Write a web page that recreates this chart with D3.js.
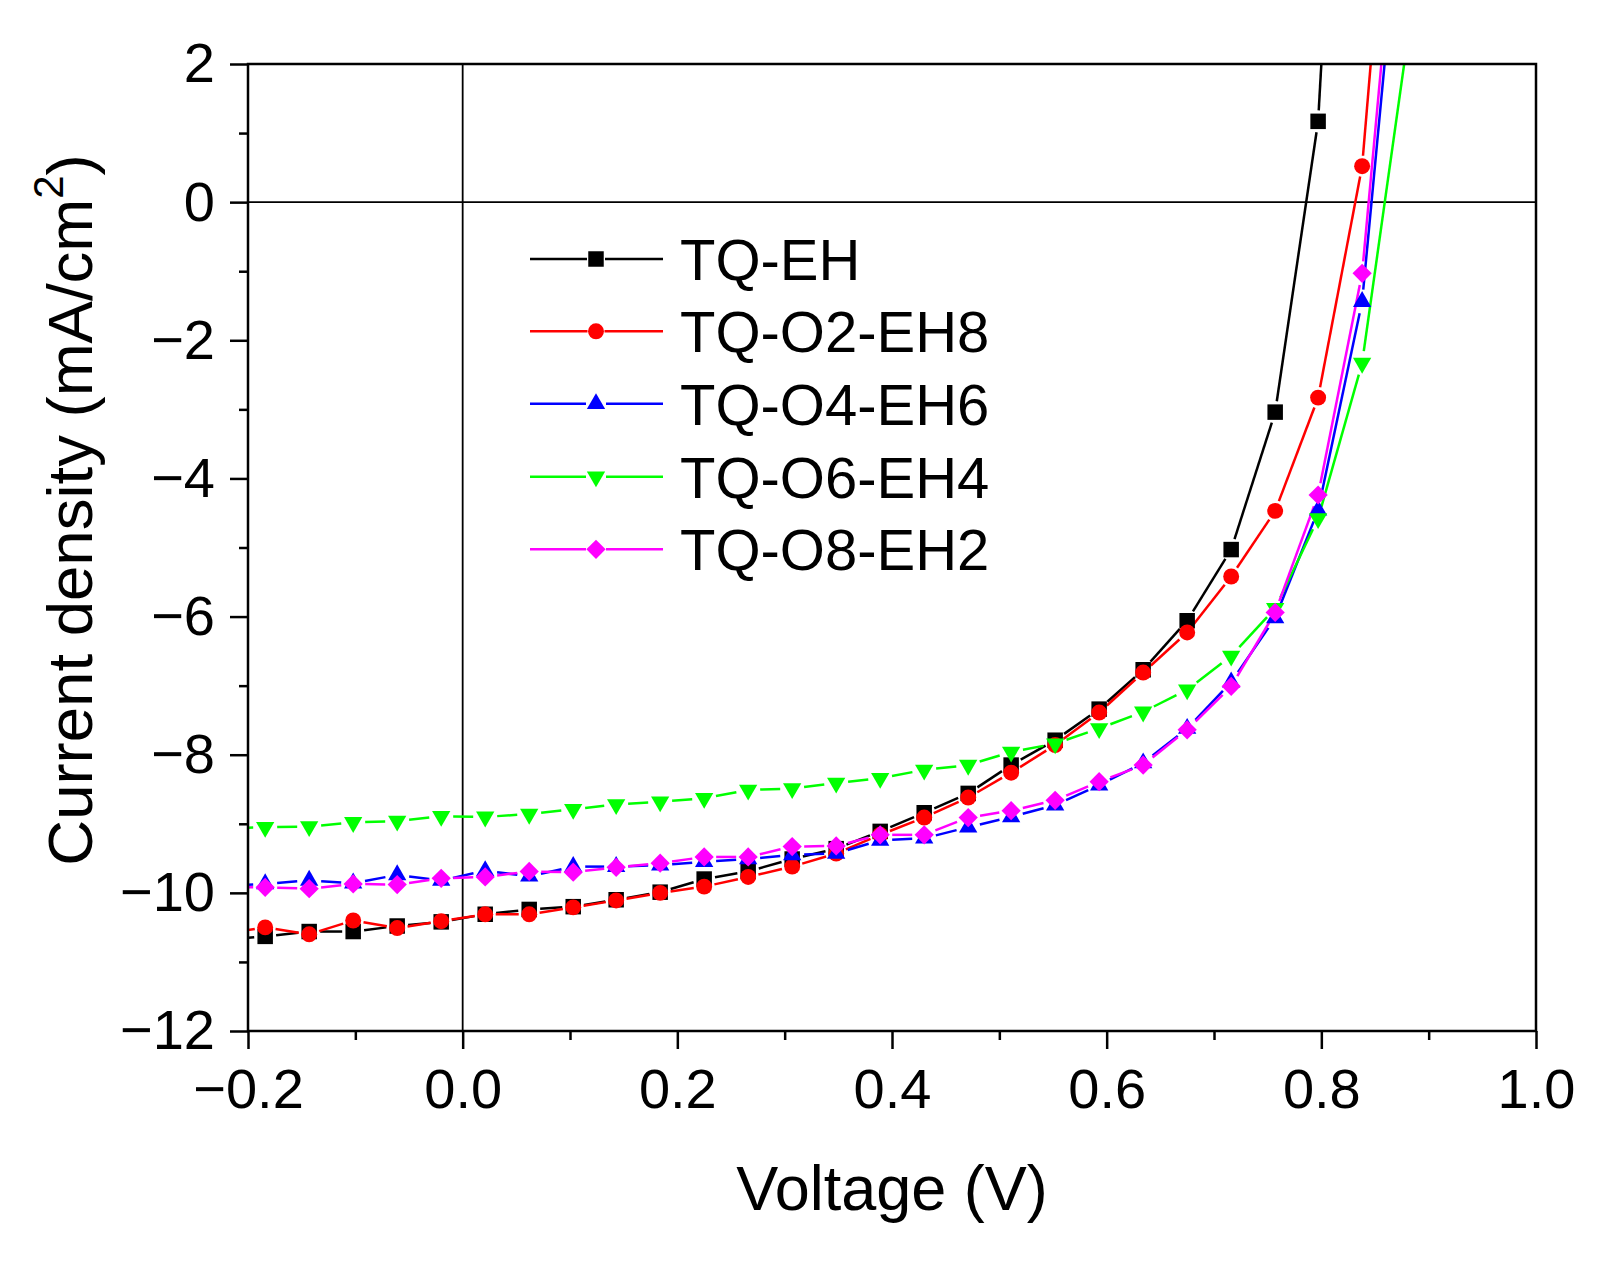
<!DOCTYPE html>
<html>
<head>
<meta charset="utf-8">
<script src="https://cdnjs.cloudflare.com/ajax/libs/d3/7.8.5/d3.min.js"></script>
<style>
body { margin: 0; background: #fff; }
svg text { font-family: "Liberation Sans", Arial, sans-serif; fill: #000; }
</style>
</head>
<body>
<div id="chart"></div>
<script>
// J-V curves, values (first and last points lie outside the frame)
var voltage = [-0.225, -0.184, -0.143, -0.102, -0.061, -0.020, 0.021, 0.062, 0.103, 0.143,
               0.184, 0.225, 0.266, 0.307, 0.348, 0.389, 0.430, 0.471, 0.511, 0.552,
               0.593, 0.634, 0.675, 0.716, 0.757, 0.797, 0.838, 0.879];

var jEH    = [-10.68, -10.63, -10.56, -10.56, -10.48, -10.42, -10.31, -10.24, -10.20, -10.10,
              -9.99, -9.80, -9.69, -9.51, -9.36, -9.11, -8.84, -8.56, -8.15, -7.79,
              -7.34, -6.77, -6.06, -5.03, -3.04, 1.17, 12.5, 30];
var jO2EH8 = [-10.60, -10.50, -10.60, -10.40, -10.51, -10.41, -10.31, -10.31, -10.21, -10.11,
              -10.00, -9.91, -9.77, -9.62, -9.43, -9.16, -8.91, -8.62, -8.26, -7.86,
              -7.39, -6.81, -6.23, -5.42, -4.47, -2.83, 0.52, 8.1];
var jO4EH6 = [-9.90, -9.87, -9.82, -9.86, -9.74, -9.82, -9.68, -9.76, -9.62, -9.62,
              -9.60, -9.55, -9.51, -9.45, -9.43, -9.24, -9.21, -9.05, -8.90, -8.73,
              -8.44, -8.12, -7.62, -6.95, -6.02, -4.46, -1.44, 5.3];
var jO6EH4 = [-9.07, -9.05, -9.04, -8.98, -8.96, -8.89, -8.90, -8.86, -8.79, -8.72,
              -8.68, -8.63, -8.51, -8.49, -8.41, -8.34, -8.22, -8.15, -7.96, -7.84,
              -7.62, -7.38, -7.06, -6.57, -5.88, -4.58, -2.33, 2.2];
var jO8EH2 = [-9.92, -9.92, -9.94, -9.87, -9.88, -9.79, -9.77, -9.69, -9.70, -9.63,
              -9.57, -9.48, -9.48, -9.33, -9.32, -9.16, -9.16, -8.91, -8.81, -8.66,
              -8.39, -8.15, -7.64, -7.01, -5.94, -4.24, -1.03, 5.9];

var names  = ["TQ-EH", "TQ-O2-EH8", "TQ-O4-EH6", "TQ-O6-EH4", "TQ-O8-EH2"];
var values = [jEH, jO2EH8, jO4EH6, jO6EH4, jO8EH2];
var colors = ["#000000", "#ff0000", "#0000ff", "#00ff00", "#ff00ff"];
var shapes = ["square", "circle", "triUp", "triDown", "diamond"];

var xMajorTicks = [-0.2, 0.0, 0.2, 0.4, 0.6, 0.8, 1.0];
var xMinorTicks = [-0.1, 0.1, 0.3, 0.5, 0.7, 0.9];
var yMajorTicks = [-12, -10, -8, -6, -4, -2, 0, 2];
var yMinorTicks = [-11, -9, -7, -5, -3, -1, 1];

var W = 1612, H = 1268;
var margin = {top: 64, right: 76, bottom: 237, left: 248};
var width = W - margin.left - margin.right;
var height = H - margin.top - margin.bottom;

var x = d3.scaleLinear().domain([-0.2, 1.0]).range([0, width]);
var y = d3.scaleLinear().domain([-12, 2]).range([height, 0]);

var svg = d3.select("#chart").append("svg")
    .attr("width", W)
    .attr("height", H);

var g = svg.append("g")
    .attr("transform", "translate(" + margin.left + "," + margin.top + ")");

g.append("defs").append("clipPath").attr("id", "clip")
    .append("rect").attr("width", width).attr("height", height);

/****** marker shapes ******/
function markerPath(shape) {
    var sym = d3.symbol();
    if (shape === "square") sym.type(d3.symbolSquare).size(240);
    else if (shape === "circle") sym.type(d3.symbolCircle).size(200);
    else if (shape === "diamond") sym.type(d3.symbolSquare).size(185);
    else sym.type(d3.symbolTriangle).size(145);
    return sym();
}
function markerRotate(shape) {
    if (shape === "diamond") return 45;
    if (shape === "triDown") return 180;
    return 0;
}
var gapSize = {square: 11, circle: 10.5, triUp: 12, triDown: 12, diamond: 12};

/****** zero lines ******/
g.append("line")
    .attr("x1", x(0)).attr("x2", x(0))
    .attr("y1", 0).attr("y2", height)
    .attr("stroke", "#000").attr("stroke-width", 1.8);
g.append("line")
    .attr("x1", 0).attr("x2", width)
    .attr("y1", y(0)).attr("y2", y(0))
    .attr("stroke", "#000").attr("stroke-width", 1.8);

/****** series ******/
function visible(v, j) {
    return v >= -0.2 && v <= 1.0 && j >= -12 && j <= 2;
}

var plot = g.append("g").attr("clip-path", "url(#clip)");

values.forEach(function (ys, s) {
    var pts = voltage.map(function (v, i) {
        return {px: x(v), py: y(ys[i]), show: visible(v, ys[i])};
    });
    var gap = gapSize[shapes[s]];
    var segs = [];
    for (var i = 0; i < pts.length - 1; i++) {
        var a = pts[i], b = pts[i + 1];
        var dx = b.px - a.px, dy = b.py - a.py;
        var len = Math.sqrt(dx * dx + dy * dy);
        var g0 = a.show ? gap : 0, g1 = b.show ? gap : 0;
        if (len <= g0 + g1) continue;
        segs.push({
            x1: a.px + dx * g0 / len, y1: a.py + dy * g0 / len,
            x2: b.px - dx * g1 / len, y2: b.py - dy * g1 / len
        });
    }
    plot.append("g").selectAll("line")
        .data(segs)
        .enter().append("line")
        .attr("x1", function (d) { return d.x1; })
        .attr("y1", function (d) { return d.y1; })
        .attr("x2", function (d) { return d.x2; })
        .attr("y2", function (d) { return d.y2; })
        .attr("stroke", colors[s])
        .attr("stroke-width", 2.5);
});

values.forEach(function (ys, s) {
    var pts = voltage.map(function (v, i) { return {v: v, j: ys[i]}; })
        .filter(function (d) { return visible(d.v, d.j); });
    g.append("g").selectAll("path")
        .data(pts)
        .enter().append("path")
        .attr("d", markerPath(shapes[s]))
        .attr("transform", function (d) {
            return "translate(" + x(d.v) + "," + y(d.j) + ") rotate(" + markerRotate(shapes[s]) + ")";
        })
        .attr("fill", colors[s]);
});

/****** axes ******/
var xAxis = g.append("g").attr("transform", "translate(0," + height + ")")
    .call(d3.axisBottom(x).tickValues(xMajorTicks).tickFormat(d3.format(".1f"))
        .tickSize(18).tickSizeOuter(0).tickPadding(19));
var xAxisMinor = g.append("g").attr("transform", "translate(0," + height + ")")
    .call(d3.axisBottom(x).tickValues(xMinorTicks).tickFormat("").tickSize(9).tickSizeOuter(0));
var yAxis = g.append("g")
    .call(d3.axisLeft(y).tickValues(yMajorTicks).tickFormat(d3.format("d"))
        .tickSize(18).tickSizeOuter(0).tickPadding(15));
var yAxisMinor = g.append("g")
    .call(d3.axisLeft(y).tickValues(yMinorTicks).tickFormat("").tickSize(9).tickSizeOuter(0));

[xAxis, xAxisMinor, yAxis, yAxisMinor].forEach(function (ax) {
    ax.select(".domain").remove();
    ax.selectAll(".tick line").attr("stroke", "#000").attr("stroke-width", 2.5);
    ax.selectAll(".tick text").style("font-size", "56px").attr("fill", "#000");
});

// frame
g.append("rect")
    .attr("width", width).attr("height", height)
    .attr("fill", "none").attr("stroke", "#000").attr("stroke-width", 2.5);

/****** axis titles ******/
svg.append("text")
    .attr("x", margin.left + width / 2)
    .attr("y", 1210)
    .attr("text-anchor", "middle")
    .style("font-size", "63px")
    .text("Voltage (V)");

var yTitle = svg.append("text")
    .attr("transform", "translate(92,510) rotate(-90)")
    .attr("text-anchor", "middle")
    .style("font-size", "63.5px");
yTitle.append("tspan").text("Current density (mA/cm");
yTitle.append("tspan").style("baseline-shift", "29px").style("font-size", "42px").text("2");
yTitle.append("tspan").text(")");

/****** legend ******/
var legend = svg.append("g");
var legendRowY = [259, 331.3, 403.7, 476.7, 549.3];
names.forEach(function (name, s) {
    var row = legend.append("g").attr("transform", "translate(0," + legendRowY[s] + ")");
    var half = gapSize[shapes[s]] - 2;
    row.append("line").attr("x1", 530).attr("x2", 596 - half).attr("y1", 0).attr("y2", 0)
        .attr("stroke", colors[s]).attr("stroke-width", 2.5);
    row.append("line").attr("x1", 596 + half).attr("x2", 663).attr("y1", 0).attr("y2", 0)
        .attr("stroke", colors[s]).attr("stroke-width", 2.5);
    row.append("path").attr("d", markerPath(shapes[s]))
        .attr("transform", "translate(596,0) rotate(" + markerRotate(shapes[s]) + ")")
        .attr("fill", colors[s]);
    row.append("text").attr("x", 680).attr("dy", "0.36em")
        .style("font-size", "58px").text(name);
});
</script>
</body>
</html>
